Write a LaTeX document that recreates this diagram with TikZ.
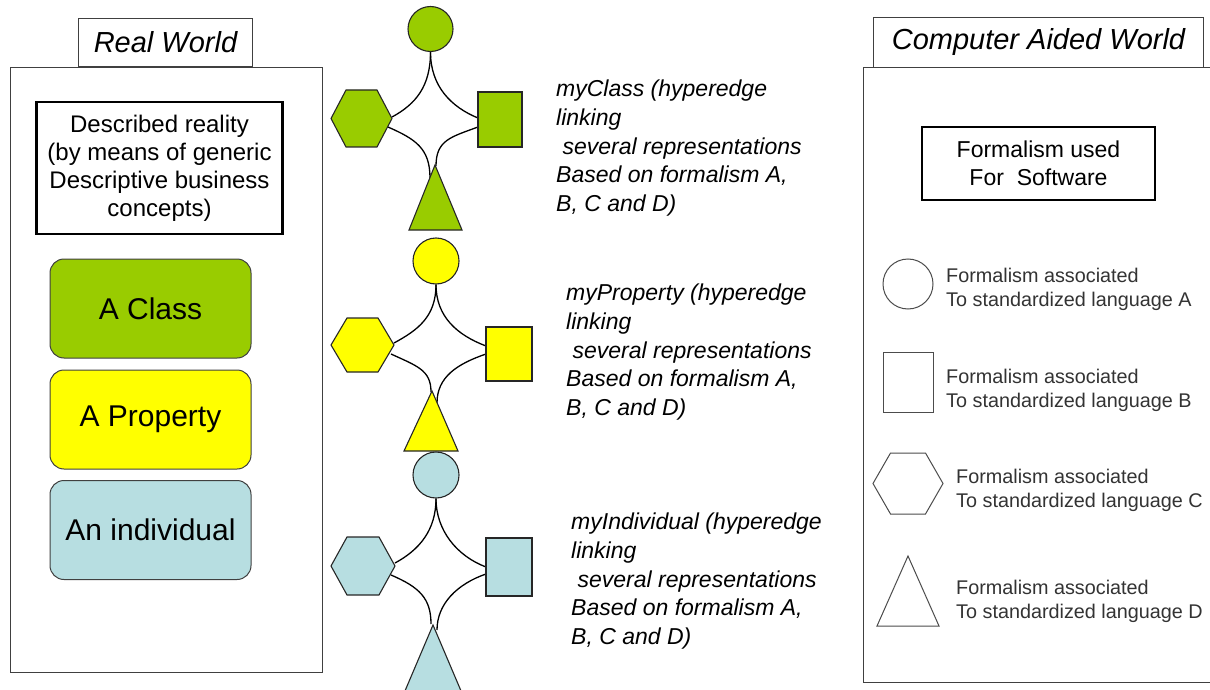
\documentclass[tikz,border=0pt]{standalone}
\usepackage{fontspec}
\setmainfont{Liberation Sans}
\definecolor{cgreen}{HTML}{99CC00}
\definecolor{cyellow}{HTML}{FFFF00}
\definecolor{cblue}{HTML}{B7DEE1}
\definecolor{frame}{HTML}{404040}
\begin{document}
\begin{tikzpicture}[x=1pt,y=-1pt,
  panel/.style={draw=frame,line width=1pt,fill=white},
  tabbox/.style={draw=frame,line width=1pt,fill=white,inner sep=0pt,font=\fontsize{29}{33}\selectfont\itshape},
  thickbox/.style={draw=black,line width=2.5pt,fill=white,inner sep=0pt,align=center},
  concept/.style={draw=frame,line width=1pt,rounded corners=14pt,minimum width=201pt,minimum height=99pt,inner sep=0pt,font=\fontsize{30}{34}\selectfont},
  shp/.style={draw=black!85,line width=1.1pt},
  hedge/.style={draw=black,line width=1.3pt},
  lgd/.style={draw=black!70,line width=1pt},
  lbl/.style={anchor=north west,align=left,inner sep=0pt,font=\fontsize{23}{28.6}\selectfont\itshape},
  lgtext/.style={anchor=west,align=left,inner sep=0pt,text=black!80,font=\fontsize{19.8}{24}\selectfont}]
\useasboundingbox (0,0) rectangle (1210,690);
\begin{scope}
\clip (0,0) rectangle (1210,690);
% ---------------- Left panel ----------------
\node[panel,minimum width=312pt,minimum height=605pt,inner sep=0pt,anchor=north west] (left) at (10,67) {};
\node[tabbox,minimum width=174pt,minimum height=48pt,anchor=south west] (rw) at (78,67) {Real World};
\node[thickbox,minimum width=246pt,minimum height=132pt,font=\fontsize{24}{28}\selectfont] (desc) at (159.5,168)
  {Described reality\\(by means of generic\\Descriptive business\\concepts)};
\node[concept,fill=cgreen] (aclass) at (150.5,308.5) {A Class};
\node[concept,fill=cyellow] (aprop) at (150.5,419.5) {A Property};
\node[concept,fill=cblue] (aind) at (150.5,530) {An individual};
% ---------------- Right panel ----------------
\node[panel,minimum width=360pt,minimum height=615pt,inner sep=0pt,anchor=north west] (right) at (863,67) {};
\node[tabbox,minimum width=330pt,minimum height=50pt,anchor=south west] (caw) at (873,68) {Computer Aided World};
\node[thickbox,minimum width=233pt,minimum height=73pt,font=\fontsize{23}{28}\selectfont] (fsw) at (1038.5,163.5)
  {Formalism used\\For~~Software};
% legend
\node[lgd,circle,minimum size=50pt,inner sep=0pt] (lgA) at (908,284) {};
\node[lgtext] (tA) at (946,289) {Formalism associated\\To standardized language A};
\node[lgd,rectangle,minimum width=50pt,minimum height=60pt,inner sep=0pt] (lgB) at (908,382) {};
\node[lgtext] (tB) at (946,390) {Formalism associated\\To standardized language B};
\draw[lgd] (873,483.5) coordinate (lgC) -- (890.5,453) -- (925.5,453) -- (943,483.5) -- (925.5,514) -- (890.5,514) -- cycle;
\node[lgtext] (tC) at (956,490) {Formalism associated\\To standardized language C};
\draw[lgd] (908,556) coordinate (lgD) -- (939,626) -- (877,626) -- cycle;
\node[lgtext] (tD) at (956,601) {Formalism associated\\To standardized language D};
% ---------------- Hyperedge 1 (green) ----------------
\coordinate (h1e) at (392,117);
\coordinate (h1se) at (388,127);
\coordinate (s1a) at (478,118);
\coordinate (s1b) at (478,127);
\coordinate (t1l) at (430,178);
\coordinate (t1r) at (436,166);
\node[shp,circle,fill=cgreen,minimum size=45pt,inner sep=0pt] (c1) at (430.5,29) {};
\draw[hedge] (c1.south) .. controls +(0,34) and +(24,-13) .. (h1e);
\draw[hedge] (c1.south) .. controls +(0,34) and +(-27,-11) .. (s1a);
\draw[hedge] (h1se) .. controls +(27,12) and +(0,-30) .. (t1l);
\draw[hedge] (s1b) .. controls +(-27,10) and +(0,-26) .. (t1r);
\draw[shp,fill=cgreen] (331,118.5) -- (346,90) -- (377,90) -- (392,118.5) -- (377,147) -- (346,147) -- cycle;
\node[shp,rectangle,fill=cgreen,minimum width=44pt,minimum height=55pt,inner sep=0pt] (s1) at (500,119.5) {};
\draw[shp,fill=cgreen] (435,165) coordinate (t1) -- (462,230) -- (409,230) -- cycle;
\node[lbl] (l1) at (556,80) {myClass (hyperedge\\linking\\\ several representations\\Based on formalism A,\\B, C and D)};
% ---------------- Hyperedge 2 (yellow) ----------------
\coordinate (h2e) at (394,343);
\coordinate (h2se) at (391,354);
\coordinate (s2a) at (486,346);
\coordinate (s2b) at (486,354);
\coordinate (t2l) at (431,392);
\coordinate (t2r) at (437,403);
\node[shp,circle,fill=cyellow,minimum size=46pt,inner sep=0pt] (c2) at (436,261) {};
\draw[hedge] (c2.south) .. controls +(0,32) and +(24,-13) .. (h2e);
\draw[hedge] (c2.south) .. controls +(0,32) and +(-29,-11) .. (s2a);
\draw[hedge] (h2se) .. controls +(26,12) and +(0,-22) .. (t2l);
\draw[hedge] (s2b) .. controls +(-29,10) and +(0,-26) .. (t2r);
\draw[shp,fill=cyellow] (331,345) -- (347,318) -- (378,318) -- (394,345) -- (378,372) -- (347,372) -- cycle;
\node[shp,rectangle,fill=cyellow,minimum width=46pt,minimum height=54pt,inner sep=0pt] (s2) at (509,354) {};
\draw[shp,fill=cyellow] (432,391) coordinate (t2) -- (458,451) -- (404,451) -- cycle;
\node[lbl] (l2) at (566,284) {myProperty (hyperedge\\linking\\\ several representations\\Based on formalism A,\\B, C and D)};
% ---------------- Hyperedge 3 (blue) ----------------
\coordinate (h3e) at (395,563);
\coordinate (h3se) at (391,575);
\coordinate (s3a) at (486,567);
\coordinate (s3b) at (486,574);
\coordinate (t3l) at (431,624);
\coordinate (t3r) at (437,630);
\node[shp,circle,fill=cblue,minimum size=46pt,inner sep=0pt] (c3) at (436,475) {};
\draw[hedge] (c3.south) .. controls +(0,32) and +(24,-13) .. (h3e);
\draw[hedge] (c3.south) .. controls +(0,32) and +(-29,-11) .. (s3a);
\draw[hedge] (h3se) .. controls +(28,12) and +(0,-26) .. (t3l);
\draw[hedge] (s3b) .. controls +(-29,10) and +(0,-26) .. (t3r);
\draw[shp,fill=cblue] (331,566) -- (347,537) -- (379,537) -- (395,566) -- (379,595) -- (347,595) -- cycle;
\node[shp,rectangle,fill=cblue,minimum width=46pt,minimum height=58pt,inner sep=0pt] (s3) at (509,567) {};
\draw[shp,fill=cblue] (433,625) coordinate (t3) -- (467,705) -- (399,705) -- cycle;
\node[lbl] (l3) at (571,513) {myIndividual (hyperedge\\linking\\\ several representations\\Based on formalism A,\\B, C and D)};
\end{scope}
\end{tikzpicture}
\end{document}
